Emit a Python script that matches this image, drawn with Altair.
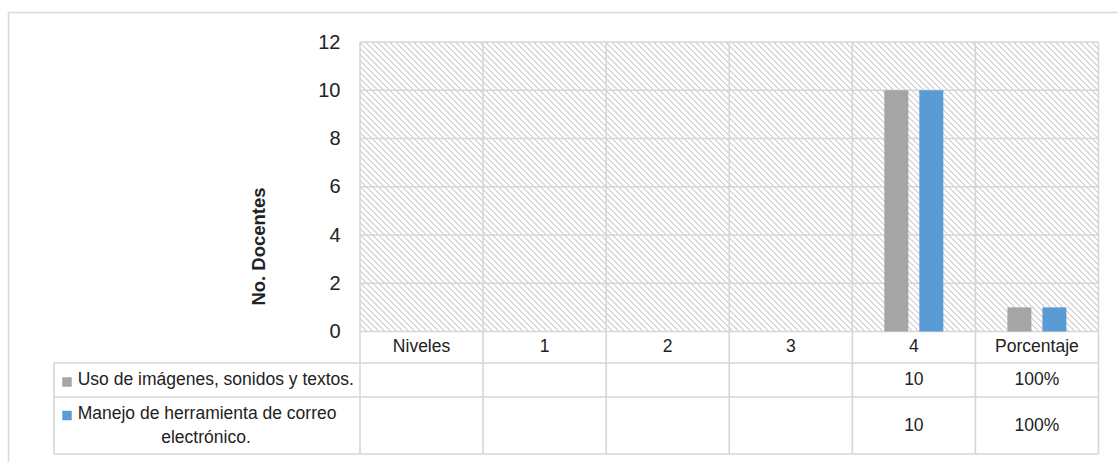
import altair as alt
import pandas as pd

# ---------------- data ----------------
categories = ["Niveles", "1", "2", "3", "4", "Porcentaje"]
series_names = ["Uso de imágenes, sonidos y textos.",
                "Manejo de herramienta de correo electrónico."]
series_label_lines = [["Uso de imágenes, sonidos y textos."],
                      ["Manejo de herramienta de correo", "electrónico."]]
series_colors = ["#a5a5a5", "#5b9bd5"]
uso_values = [None, None, None, None, 10, 1]
manejo_values = [None, None, None, None, 10, 1]
uso_table = ["", "", "", "", "10", "100%"]
manejo_table = ["", "", "", "", "10", "100%"]
y_ticks = [0, 2, 4, 6, 8, 10, 12]
y_title = "No. Docentes"

# ---------------- layout (pixels) ----------------
PAD_L, PAD_T = 54, 42
COL_PX = 123.08
LABEL_COL_PX = 306.0
N_COLS = len(categories)
PLOT_W_PX = N_COLS * COL_PX
PLOT_H_PX = 289.5
Y_MAX = 12
PX_PER_Y = PLOT_H_PX / Y_MAX
ROW_H_PX = [31.5, 34.0, 57.0]          # header, series 1, series 2
TABLE_H_PX = sum(ROW_H_PX)
W = LABEL_COL_PX + PLOT_W_PX
H = PLOT_H_PX + TABLE_H_PX
X_MIN = -LABEL_COL_PX / COL_PX
Y_MIN = -TABLE_H_PX / PX_PER_Y
BAR_OUTER_PX, BAR_PX, BAR_GAP_PX = 32.0, 24.0, 11.0
LINE_H_PX = 24.0
LABEL_TEXT_X_PX = 23.7     # from table left edge
LABEL_CONT_X_PX = 152.0    # centre of continuation lines
SQUARE_X_PX = 13.0

GRID = "#d6d6d6"
TXT = "#222222"
FONT = "Liberation Sans"


def below(px):
    """y value for a distance in pixels below the zero line"""
    return -px / PX_PER_Y


def xpx(px):
    """x value for a pixel distance from the table's left edge"""
    return (px - LABEL_COL_PX) / COL_PX


xs = alt.Scale(domain=[X_MIN, N_COLS], nice=False, zero=False)
ys = alt.Scale(domain=[Y_MIN, Y_MAX], nice=False, zero=False)
yaxis = alt.Axis(
    values=y_ticks, offset=-LABEL_COL_PX, grid=False, ticks=False,
    domain=False, labelPadding=20, labelFontSize=20, labelColor=TXT,
    labelFont=FONT, title=y_title, titleFont=FONT, titleFontSize=18.5,
    titleFontWeight="bold", titleColor=TXT, titleX=-92, titleY=204,
    titleAngle=270)


def X(f):
    return alt.X(f, scale=xs, axis=None)


def Y(f):
    return alt.Y(f, scale=ys, axis=yaxis)


row_tops = [0.0]
for h in ROW_H_PX:
    row_tops.append(row_tops[-1] + h)

# ---------------- hatch fill ----------------
w, h = PLOT_W_PX, PLOT_H_PX
s = (w + h) / (w * w + h * h)
period = 6.0 / 1.41421
n_per = (w + h) / 1.41421 / period
stops = []
k = 0
frac = 0.4
while k / n_per < 1:
    a = k / n_per
    b = min((k + frac) / n_per, 1)
    c = min((k + 1) / n_per, 1)
    stops += [alt.GradientStop(offset=a, color="#d9d9d9"),
              alt.GradientStop(offset=b, color="#d9d9d9"),
              alt.GradientStop(offset=b, color="#ffffff"),
              alt.GradientStop(offset=c, color="#ffffff")]
    k += 1
hatch = alt.LinearGradient(gradient="linear", stops=stops,
                           x1=0, y1=1, x2=s * w, y2=1 - s * h)

bg_df = pd.DataFrame({"x": [0], "x2": [N_COLS], "y": [0], "y2": [Y_MAX]})
background = alt.Chart(bg_df).mark_rect(color=hatch).encode(
    x=X("x:Q"), x2="x2:Q", y=Y("y:Q"), y2="y2:Q")

# ---------------- lines ----------------
lines = []
for v in y_ticks[1:]:
    lines.append({"x": 0, "x2": N_COLS, "y": v, "y2": v})
lines.append({"x": 0, "x2": N_COLS, "y": 0, "y2": 0})
for i in range(N_COLS + 1):
    lines.append({"x": i, "x2": i, "y": Y_MIN, "y2": Y_MAX})
for t in row_tops[1:]:
    lines.append({"x": X_MIN, "x2": N_COLS, "y": below(t), "y2": below(t)})
lines.append({"x": X_MIN, "x2": X_MIN, "y": below(row_tops[1]), "y2": Y_MIN})
lines_df = pd.DataFrame(lines)
rules = alt.Chart(lines_df).mark_rule(color=GRID, strokeWidth=1.6).encode(
    x=X("x:Q"), x2="x2:Q", y=Y("y:Q"), y2="y2:Q")

# ---------------- bars ----------------
bar_rows = []
for si, vals in enumerate([uso_values, manejo_values]):
    for ci, v in enumerate(vals):
        if v is None:
            continue
        x0 = ci + (BAR_OUTER_PX + si * (BAR_PX + BAR_GAP_PX)) / COL_PX
        bar_rows.append({"serie": series_names[si], "categoria": categories[ci],
                         "x": x0, "x2": x0 + BAR_PX / COL_PX, "v": v})
bars_df = pd.DataFrame(bar_rows)
color_scale = alt.Scale(domain=series_names, range=series_colors)
bars = alt.Chart(bars_df).mark_rect().encode(
    x=X("x:Q"), x2="x2:Q", y=Y("v:Q"), y2=alt.datum(0),
    color=alt.Color("serie:N", scale=color_scale, legend=None))

# ---------------- table text ----------------
txt_rows = []
hdr_y = below(ROW_H_PX[0] / 2)
for ci, c in enumerate(categories):
    txt_rows.append({"x": ci + 0.5, "y": hdr_y, "t": c})
for si, tbl in enumerate([uso_table, manejo_table]):
    yc = below(row_tops[si + 1] + ROW_H_PX[si + 1] / 2)
    for ci, t in enumerate(tbl):
        if t:
            txt_rows.append({"x": ci + 0.5, "y": yc, "t": t})
txt_df = pd.DataFrame(txt_rows)
cell_text = alt.Chart(txt_df).mark_text(
    font=FONT, fontSize=17.5, color=TXT, align="center", baseline="middle"
).encode(x=X("x:Q"), y=Y("y:Q"), text="t:N")

first_rows, cont_rows, sq_rows = [], [], []
for si, lns in enumerate(series_label_lines):
    top = row_tops[si + 1]
    n = len(lns)
    c = top + ROW_H_PX[si + 1] / 2
    for li, ln in enumerate(lns):
        yc = c + (li - (n - 1) / 2) * LINE_H_PX
        if li == 0:
            first_rows.append({"x": xpx(LABEL_TEXT_X_PX), "y": below(yc), "t": ln})
            sq_rows.append({"x": xpx(SQUARE_X_PX), "y": below(yc + 2),
                            "serie": series_names[si]})
        else:
            cont_rows.append({"x": xpx(LABEL_CONT_X_PX), "y": below(yc), "t": ln})

label_first = alt.Chart(pd.DataFrame(first_rows)).mark_text(
    font=FONT, fontSize=17.5, color=TXT, align="left", baseline="middle"
).encode(x=X("x:Q"), y=Y("y:Q"), text="t:N")
label_cont = alt.Chart(pd.DataFrame(cont_rows)).mark_text(
    font=FONT, fontSize=17.5, color=TXT, align="center", baseline="middle"
).encode(x=X("x:Q"), y=Y("y:Q"), text="t:N")
squares = alt.Chart(pd.DataFrame(sq_rows)).mark_square(size=90, opacity=1).encode(
    x=X("x:Q"), y=Y("y:Q"),
    color=alt.Color("serie:N", scale=color_scale, legend=None))

# ---------------- outer frame ----------------
frame = alt.Chart(pd.DataFrame({"a": [0]})).mark_rect(
    filled=False, stroke="#d9d9d9", strokeWidth=1.6
).encode(x=alt.value(8.5 - PAD_L), x2=alt.value(1130 - PAD_L),
         y=alt.value(12.5 - PAD_T), y2=alt.value(480 - PAD_T))

chart = alt.layer(
    background, frame, rules, bars, cell_text, label_first, label_cont, squares
).properties(
    width=W, height=H,
    autosize=alt.AutoSizeParams(type="none"),
    padding={"left": PAD_L, "top": PAD_T, "right": 1118 - PAD_L - W,
             "bottom": 462 - PAD_T - H},
    background="white",
).configure_view(stroke="transparent")

chart.save("out.html", embed_options={"renderer": "svg", "actions": False})
